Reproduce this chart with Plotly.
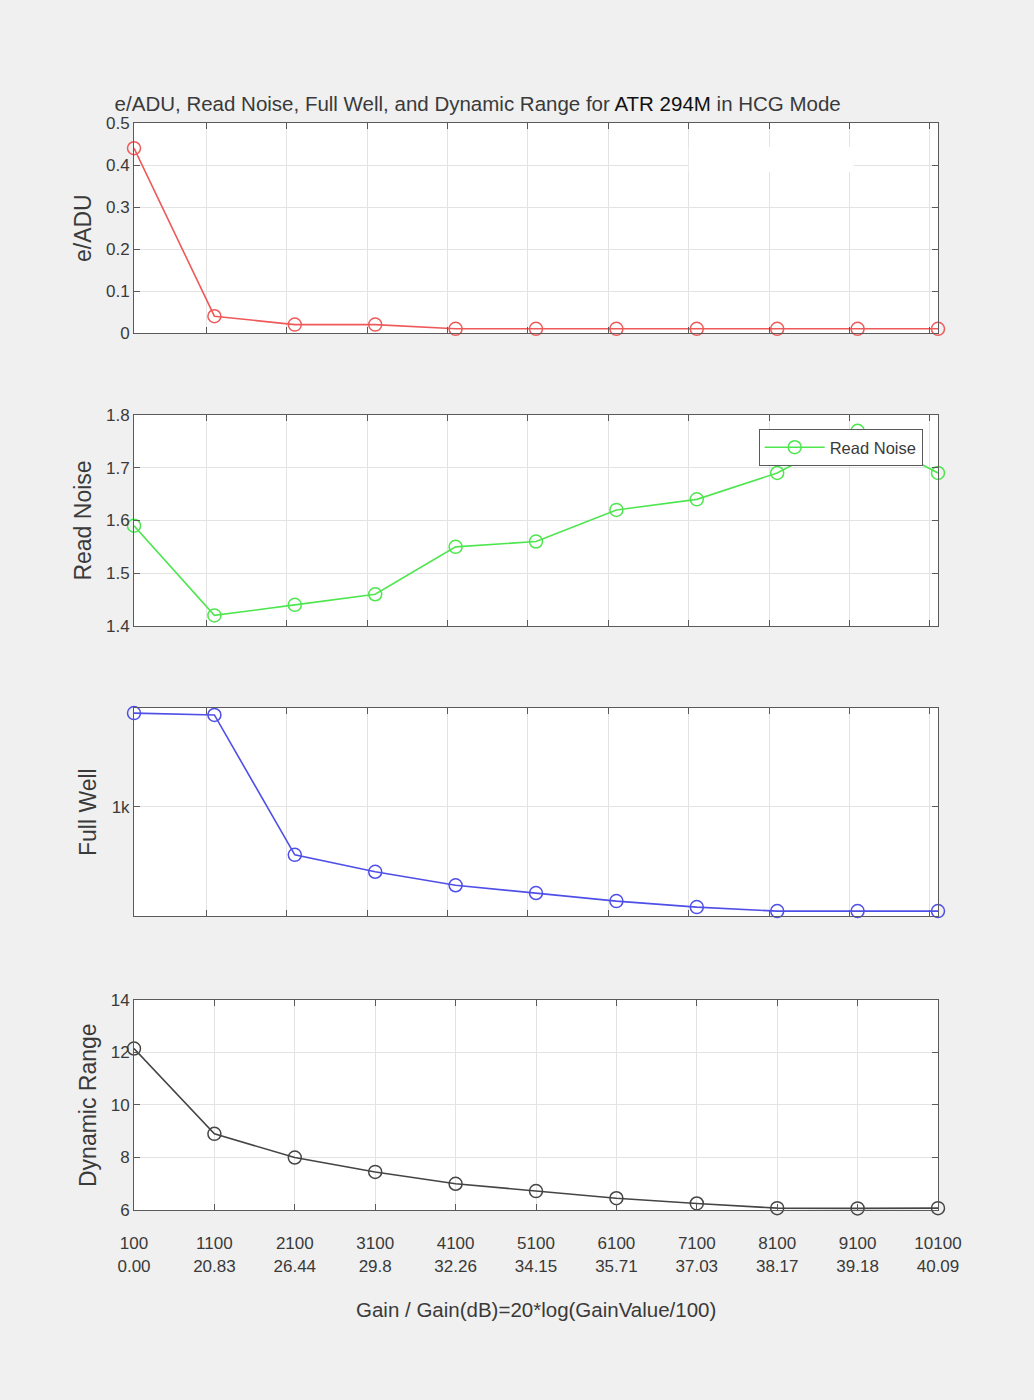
import plotly.graph_objects as go
from plotly.subplots import make_subplots

gain = [100, 1100, 2100, 3100, 4100, 5100, 6100, 7100, 8100, 9100, 10100]
gain_db = ["0.00", "20.83", "26.44", "29.8", "32.26", "34.15", "35.71", "37.03", "38.17", "39.18", "40.09"]
e_adu = [0.44, 0.04, 0.02, 0.02, 0.01, 0.01, 0.01, 0.01, 0.01, 0.01, 0.01]
read_noise = [1.59, 1.42, 1.44, 1.46, 1.55, 1.56, 1.62, 1.64, 1.69, 1.77, 1.69]
full_well = [2070, 2040, 690, 605, 545, 513, 482, 460, 446, 446, 446]
dynamic_range = [12.15, 8.9, 8.0, 7.45, 7.0, 6.72, 6.45, 6.25, 6.07, 6.06, 6.07]
grid_x = [1000, 2000, 3000, 4000, 5000, 6000, 7000, 8000, 9000, 10000]

FONT = "Liberation Sans, Arial, sans-serif"
TXT = "#3a3a3a"
AX = "#5a5a5a"
GRID = "#e3e3e3"

fig = make_subplots(rows=4, cols=1, shared_xaxes=False, vertical_spacing=0.0)

series = [
    (e_adu, "#ee5a5a", "e/ADU"),
    (read_noise, "#4ee64e", "Read Noise"),
    (full_well, "#4f4fe8", "Full Well"),
    (dynamic_range, "#454545", "Dynamic Range"),
]
for i, (vals, col, name) in enumerate(series, start=1):
    fig.add_trace(go.Scatter(
        x=gain, y=vals, mode="lines+markers", name=name,
        line=dict(color=col, width=1.6),
        marker=dict(symbol="circle-open", size=13, color=col, line=dict(width=1.5, color=col)),
        cliponaxis=False, showlegend=(i == 2),
    ), row=i, col=1)

domains = [(0.8068, 1.0), (0.5373, 0.7314), (0.2705, 0.4618), (0.0, 0.1932)]
common_x = dict(range=[100, 10100], showline=True, linecolor=AX, linewidth=1, mirror="ticks",
                ticks="inside", ticklen=6, tickcolor=AX, showgrid=True, gridcolor=GRID, gridwidth=1,
                zeroline=False, tickfont=dict(family=FONT, size=17, color=TXT))
common_y = dict(showline=True, linecolor=AX, linewidth=1, mirror="ticks", ticks="inside", ticklen=6,
                tickcolor=AX, showgrid=True, gridcolor=GRID, gridwidth=1, zeroline=False,
                tickfont=dict(family=FONT, size=17, color=TXT))

for i in range(1, 5):
    xk = "xaxis" if i == 1 else f"xaxis{i}"
    yk = "yaxis" if i == 1 else f"yaxis{i}"
    xa = dict(common_x)
    if i < 4:
        xa.update(tickmode="array", tickvals=grid_x, showticklabels=False)
    else:
        xa.update(tickmode="array", tickvals=gain,
                  ticktext=[f"{g}<br>{d}" for g, d in zip(gain, gain_db)],
                  ticklabelstandoff=18)
    fig.layout[xk].update(**xa)
    fig.layout[yk].update(**common_y, domain=list(domains[i - 1]))

fig.layout.yaxis.update(range=[0, 0.5], tickmode="array", tickvals=[0, 0.1, 0.2, 0.3, 0.4, 0.5],
                        ticktext=["0", "0.1", "0.2", "0.3", "0.4", "0.5"])
fig.layout.yaxis2.update(range=[1.4, 1.8], tickmode="array", tickvals=[1.4, 1.5, 1.6, 1.7, 1.8],
                         ticktext=["1.4", "1.5", "1.6", "1.7", "1.8"])
fig.layout.yaxis3.update(type="log", range=[2.633, 3.333], tickmode="array", tickvals=[1000],
                         ticktext=["1k"])
fig.layout.yaxis4.update(range=[6, 14], tickmode="array", tickvals=[6, 8, 10, 12, 14])

# y-axis titles
ytitles = [("e/ADU", -0.0634, 0.9034), ("Read Noise", -0.0646, 0.6343),
          ("Full Well", -0.0572, 0.3661), ("Dynamic Range", -0.0572, 0.0966)]
for txt, xp, yp in ytitles:
    fig.add_annotation(text=txt, xref="paper", yref="paper", x=xp, y=yp, textangle=-90,
                       showarrow=False, xanchor="center", yanchor="middle",
                       font=dict(family=FONT, size=23, color=TXT))

fig.add_annotation(text="Gain / Gain(dB)=20*log(GainValue/100)", xref="paper", yref="paper",
                   x=0.5, y=-0.0911, showarrow=False, xanchor="center", yanchor="middle",
                   font=dict(family=FONT, size=20.5, color=TXT))

# white patch over grid in top panel (as in reference)
fig.add_shape(type="rect", xref="paper", yref="paper", x0=0.690, x1=0.895, y0=0.955, y1=0.978,
              fillcolor="white", line=dict(width=0), layer="above")

fig.update_layout(
    width=1034, height=1400,
    margin=dict(l=134, r=96, t=123, b=190),
    paper_bgcolor="#f0f0f0", plot_bgcolor="white",
    title=dict(text="e/ADU, Read Noise, Full Well, and Dynamic Range for <span style='color:#111'>ATR 294M</span> in HCG Mode",
               x=0.462, xref="container", xanchor="center", y=1 - 104 / 1400, yref="container",
               yanchor="middle", font=dict(family=FONT, size=20.5, color=TXT)),
    legend=dict(x=0.777, y=0.7185, xanchor="left", yanchor="top", bgcolor="white",
                bordercolor=AX, borderwidth=1, font=dict(family=FONT, size=16.5, color=TXT),
                itemwidth=60, tracegroupgap=0),
    showlegend=True,
)

fig.write_html("out.html", config={"displayModeBar": False},
               post_script="document.body.style.margin='0';document.body.style.padding='0';"
                           "document.body.style.background='#f0f0f0';")
